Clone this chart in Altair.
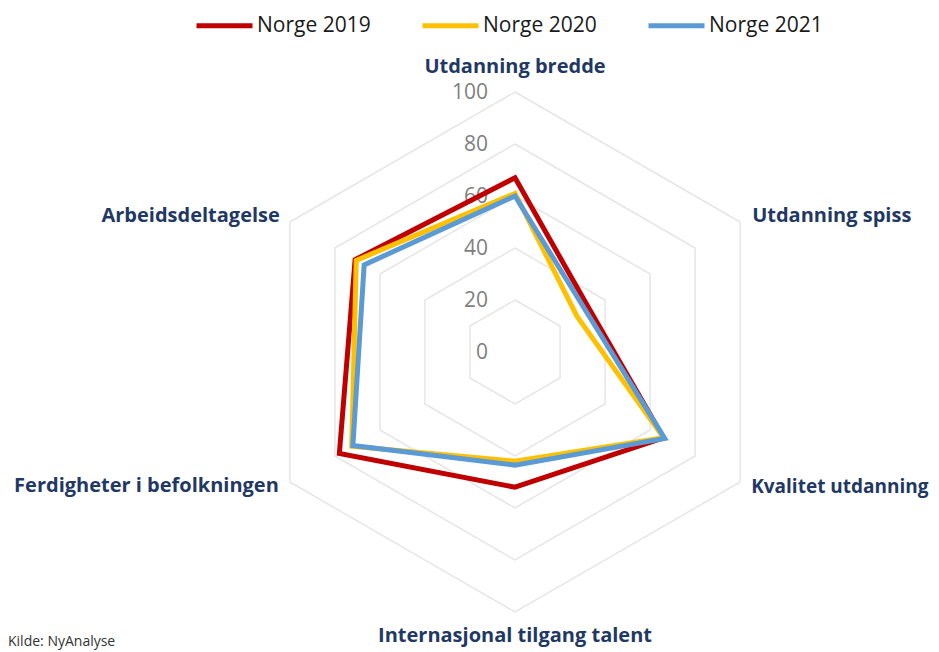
import altair as alt
import pandas as pd

# ---- data ----
categories = [
    "Utdanning bredde",
    "Utdanning spiss",
    "Kvalitet utdanning",
    "Internasjonal tilgang talent",
    "Ferdigheter i befolkningen",
    "Arbeidsdeltagelse",
]
series = ["Norge 2019", "Norge 2020", "Norge 2021"]
norge_2019 = [67, 33, 66, 52, 78, 71]
norge_2020 = [61, 27.5, 66, 42, 72.5, 70.5]
norge_2021 = [60, 31.5, 66.5, 43.5, 72, 67]
ticks = [0, 20, 40, 60, 80, 100]
colors = ["#C00000", "#FFC000", "#5B9BD5"]
source_note = "Kilde: NyAnalyse"

# ---- layout (pixels) ----
W, H = 923, 644
CX, CY = 507, 344
PX = 2.6  # pixels per unit
xdom = [-CX / PX, (W - CX) / PX]
ydom = [-(H - CY) / PX, CY / PX]

FONT = "Open Sans"
NAVY = "#1F3864"

# tables built from the arrays
vals = {"Norge 2019": norge_2019, "Norge 2020": norge_2020, "Norge 2021": norge_2021}
series_df = pd.DataFrame(
    [
        {"series": s, "cat": c, "k": k, "value": v}
        for s in series
        for k, (c, v) in enumerate(zip(categories, vals[s]))
    ]
)
ring_df = pd.DataFrame(
    [{"ring": t, "k": k, "value": t} for t in ticks[1:] for k in range(len(categories))]
)
tick_df = pd.DataFrame({"label": [str(t) for t in ticks], "value": ticks, "k": 0})
cat_df = pd.DataFrame({"cat": categories, "k": list(range(len(categories))), "value": 100})

to_xy = dict(
    x="datum.value * sin(datum.k * PI / 3)",
    y="datum.value * cos(datum.k * PI / 3)",
)

X = alt.X("x:Q", scale=alt.Scale(domain=xdom, nice=False, zero=False), axis=None)
Y = alt.Y("y:Q", scale=alt.Scale(domain=ydom, nice=False, zero=False), axis=None)

rings = (
    alt.Chart(ring_df)
    .transform_calculate(**to_xy)
    .mark_line(interpolate="linear-closed", color="#E6E6E6", strokeWidth=1.5)
    .encode(x=X, y=Y, detail="ring:N", order="k:Q")
)

tick_labels = (
    alt.Chart(tick_df)
    .transform_calculate(**to_xy)
    .mark_text(align="right", baseline="middle", dx=-27, dy=1, fontSize=21,
               font=FONT, color="#7F7F7F")
    .encode(x=X, y=Y, text="label:N")
)

lines = (
    alt.Chart(series_df)
    .transform_calculate(**to_xy)
    .mark_line(interpolate="linear-closed", strokeWidth=5, strokeJoin="miter")
    .encode(
        x=X,
        y=Y,
        order="k:Q",
        color=alt.Color(
            "series:N",
            scale=alt.Scale(domain=series, range=colors),
            legend=alt.Legend(
                title=None,
                orient="none",
                direction="horizontal",
                legendX=186,
                legendY=-13,
                symbolType="stroke",
                symbolSize=3136,
                symbolStrokeWidth=5,
                labelFont=FONT,
                labelFontSize=21,
                labelColor="#1A1A1A",
                labelOffset=2,
                columnPadding=41,
            ),
        ),
    )
)

label_style = {
    "Utdanning bredde": dict(align="center", dx=0, dy=-25, fontSize=20),
    "Utdanning spiss": dict(align="left", dx=12, dy=-6, fontSize=20),
    "Kvalitet utdanning": dict(align="left", dx=11, dy=5, fontSize=19),
    "Internasjonal tilgang talent": dict(align="center", dx=0, dy=24, fontSize=20),
    "Ferdigheter i befolkningen": dict(align="right", dx=-11, dy=4, fontSize=20),
    "Arbeidsdeltagelse": dict(align="right", dx=-10, dy=-6, fontSize=20),
}
cat_layers = [
    alt.Chart(cat_df)
    .transform_filter(alt.datum.cat == c)
    .transform_calculate(**to_xy)
    .mark_text(baseline="middle", fontWeight="bold", font=FONT,
               color=NAVY, **label_style[c])
    .encode(x=X, y=Y, text="cat:N")
    for c in categories
]

chart = (
    alt.layer(rings, tick_labels, lines, *cat_layers)
    .properties(
        width=W,
        height=H,
        autosize=alt.AutoSizeParams(type="none"),
        padding=0,
        title=alt.TitleParams(
            source_note,
            orient="bottom",
            anchor="start",
            align="left",
            dx=0,
            dy=-3,
            offset=0,
            baseline="bottom",
            fontSize=14,
            font=FONT,
            fontWeight="normal",
            color="#333333",
        ),
    )
    .configure_view(stroke=None)
)

chart.save("out.html", embed_options={"renderer": "svg", "actions": False})
